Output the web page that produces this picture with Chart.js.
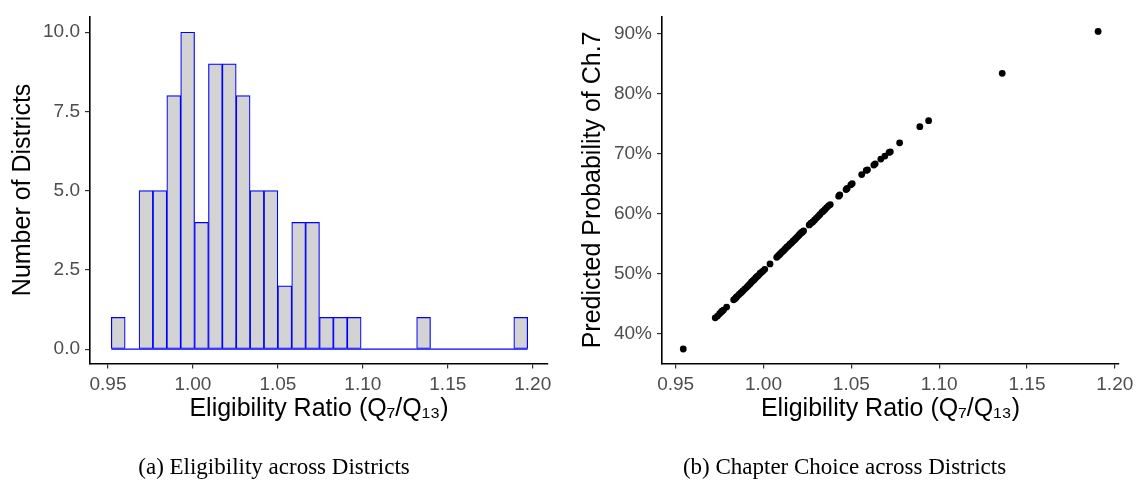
<!DOCTYPE html>
<html>
<head>
<meta charset="utf-8">
<script src="https://cdn.jsdelivr.net/npm/chart.js@4.4.1/dist/chart.umd.min.js"></script>
<style>
  html, body { margin: 0; padding: 0; background: #ffffff; }
  body { width: 1141px; height: 489px; position: relative; overflow: hidden; }
  canvas { position: absolute; top: 0; }
  #histo { left: 0; }
  #scatter { left: 570px; }
</style>
</head>
<body>
<canvas id="histo" width="570" height="489" style="width:570px;height:489px"></canvas>
<canvas id="scatter" width="571" height="489" style="width:571px;height:489px"></canvas>
<script>
// ---------- Data ----------
// Histogram bin centres (Eligibility Ratio) and counts
const binCenters = [0.95602, 0.96419, 0.97236, 0.98053, 0.98870, 0.99687, 1.00504, 1.01321, 1.02138, 1.02955,
                    1.03772, 1.04589, 1.05406, 1.06223, 1.07040, 1.07857, 1.08674, 1.09491, 1.10308, 1.11125,
                    1.11942, 1.12759, 1.13576, 1.14393, 1.15210, 1.16027, 1.16844, 1.17661, 1.18478, 1.19295];
const binCounts  = [1, 0, 5, 5, 8, 10, 4, 9, 9, 8, 5, 5, 2, 4, 4, 1, 1, 1, 0, 0, 0, 0, 1, 0, 0, 0, 0, 0, 0, 1];

// Scatter: eligibility ratio vs predicted probability of Chapter 7 (%)
const ratioX = [0.9543,
  0.9725, 0.9738, 0.9750, 0.9760, 0.9764,
  0.9772, 0.9790, 0.9830, 0.9838, 0.9844,
  0.9850, 0.9861, 0.9872, 0.9882, 0.9893, 0.9904, 0.9914, 0.9924,
  0.9932, 0.9940, 0.9948, 0.9956, 0.9964, 0.9972, 0.9980, 0.9988, 0.9997, 1.0007,
  1.0037, 1.0075, 1.0082, 1.0089,
  1.0096, 1.0105, 1.0114, 1.0123, 1.0132, 1.0141, 1.0150, 1.0159, 1.0168,
  1.0176, 1.0183, 1.0189, 1.0196, 1.0202, 1.0208, 1.0215, 1.0221, 1.0228,
  1.0260, 1.0270, 1.0280, 1.0290, 1.0300, 1.0310, 1.0320, 1.0332,
  1.0340, 1.0350, 1.0360, 1.0370, 1.0380,
  1.0428, 1.0434, 1.0470, 1.0476, 1.0497,
  1.0505, 1.0559,
  1.0585, 1.0592, 1.0628, 1.0636,
  1.0668, 1.0691, 1.0715, 1.0722,
  1.0775, 1.0890, 1.0940, 1.1359, 1.1905];
const probY = [37.4,
  42.6, 42.9, 43.3, 43.6, 43.7,
  43.9, 44.4, 45.6, 45.8, 46.0,
  46.2, 46.5, 46.8, 47.1, 47.4, 47.7, 48.0, 48.3,
  48.6, 48.8, 49.0, 49.3, 49.5, 49.7, 50.0, 50.2, 50.4, 50.7,
  51.6, 52.7, 52.9, 53.1,
  53.3, 53.6, 53.8, 54.1, 54.4, 54.6, 54.9, 55.1, 55.4,
  55.6, 55.8, 56.0, 56.2, 56.4, 56.6, 56.8, 56.9, 57.1,
  58.1, 58.4, 58.6, 58.9, 59.2, 59.5, 59.8, 60.2,
  60.4, 60.7, 61.0, 61.3, 61.5,
  62.9, 63.1, 64.0, 64.2, 64.8,
  65.0, 66.5,
  67.2, 67.3, 68.1, 68.3,
  69.1, 69.6, 70.2, 70.3,
  71.8, 74.5, 75.5, 83.4, 90.4];

// Tick labels
const ratioTicks = [0.95, 1.00, 1.05, 1.10, 1.15, 1.20];
const countTicks = [0, 2.5, 5, 7.5, 10];
const probTicks  = [40, 50, 60, 70, 80, 90];

const xTitle = 'Eligibility Ratio (Q\u2087/Q\u2081\u2083)';
const captionA = '(a) Eligibility across Districts';
const captionB = '(b) Chapter Choice across Districts';

// ---------- Styling ----------
const SANS = '"Liberation Sans", Arial, Helvetica, sans-serif';
const SERIF = '"Liberation Serif", "DejaVu Serif", serif';
const tickFont = { family: SANS, size: 19 };
const titleFont = { family: SANS, size: 25 };
const tickColor = '#4D4D4D';

function fixedTicks(list) {
  return function (axis) { axis.ticks = list.map(v => ({ value: v })); };
}

function axisCommon(extra) {
  return Object.assign({
    grid: { display: true, offset: false, drawOnChartArea: false, drawTicks: true, tickLength: 5, color: '#333333', lineWidth: 1.2 },
    border: { display: true, color: '#000000', width: 1.6 },
  }, extra);
}

const binWidth = binCenters[1] - binCenters[0];
const baseline = [
  { x: binCenters[0] - binWidth / 2, y: 0 },
  { x: binCenters[binCenters.length - 1] + binWidth / 2, y: 0 }
];

// ---------- Histogram ----------
new Chart(document.getElementById('histo'), {
  type: 'bar',
  data: {
    datasets: [
      {
        type: 'line',
        data: baseline,
        borderColor: '#0000FF',
        borderWidth: 1.2,
        pointRadius: 0,
        order: 0
      },
      {
        type: 'bar',
        data: binCenters.map((c, i) => ({ x: c, y: binCounts[i] })),
        backgroundColor: '#D3D3D3',
        borderColor: '#0000FF',
        borderWidth: 1.2,
        borderSkipped: false,
        barPercentage: 1.0,
        categoryPercentage: 1.0,
        grouped: false,
        order: 1
      }
    ]
  },
  options: {
    responsive: false,
    animation: false,
    events: [],
    layout: { padding: { top: 7, right: 22, left: 0, bottom: 0 } },
    plugins: {
      legend: { display: false },
      tooltip: { enabled: false },
      title: {
        display: true,
        text: captionA,
        position: 'bottom',
        color: '#000000',
        font: { family: SERIF, size: 23, weight: 'normal' },
        padding: { top: 25, bottom: 7 }
      }
    },
    scales: {
      x: axisCommon({
        type: 'linear',
        offset: false,
        min: 0.9394,
        max: 1.2090,
        afterBuildTicks: fixedTicks(ratioTicks),
        afterFit: function (s) { s.height = 66; },
        ticks: { color: tickColor, font: tickFont, padding: 5, maxRotation: 0,
                 callback: v => Number(v).toFixed(2) },
        title: { display: true, text: xTitle, color: '#000000', font: titleFont, padding: { top: 0, bottom: 5 } }
      }),
      y: axisCommon({
        type: 'linear',
        min: -0.45,
        max: 10.5,
        afterBuildTicks: fixedTicks(countTicks),
        afterFit: function (s) { s.width = 90; },
        ticks: { color: tickColor, font: tickFont, padding: 5, callback: v => Number(v).toFixed(1) },
        title: { display: true, text: 'Number of Districts', color: '#000000', font: titleFont, padding: { top: 8, bottom: 0 } }
      })
    }
  }
});

// ---------- Scatter ----------
new Chart(document.getElementById('scatter'), {
  type: 'scatter',
  data: {
    datasets: [{
      data: ratioX.map((x, i) => ({ x: x, y: probY[i] })),
      backgroundColor: '#000000',
      borderColor: '#000000',
      borderWidth: 0,
      pointRadius: 3.4
    }]
  },
  options: {
    responsive: false,
    animation: false,
    events: [],
    layout: { padding: { top: 7, right: 22, left: 0, bottom: 0 } },
    plugins: {
      legend: { display: false },
      tooltip: { enabled: false },
      title: {
        display: true,
        text: captionB,
        position: 'bottom',
        color: '#000000',
        font: { family: SERIF, size: 23, weight: 'normal' },
        padding: { top: 25, bottom: 7 }
      }
    },
    scales: {
      x: axisCommon({
        type: 'linear',
        min: 0.9422,
        max: 1.2024,
        afterBuildTicks: fixedTicks(ratioTicks),
        afterFit: function (s) { s.height = 66; },
        ticks: { color: tickColor, font: tickFont, padding: 5, maxRotation: 0,
                 callback: v => Number(v).toFixed(2) },
        title: { display: true, text: xTitle, color: '#000000', font: titleFont, padding: { top: 0, bottom: 5 } }
      }),
      y: axisCommon({
        type: 'linear',
        min: 35.0,
        max: 92.9,
        afterBuildTicks: fixedTicks(probTicks),
        afterFit: function (s) { s.width = 92; },
        ticks: { color: tickColor, font: tickFont, padding: 5, callback: v => v + '%' },
        title: { display: true, text: 'Predicted Probability of Ch.7', color: '#000000', font: titleFont, padding: { top: 8, bottom: 0 } }
      })
    }
  }
});
</script>
</body>
</html>
